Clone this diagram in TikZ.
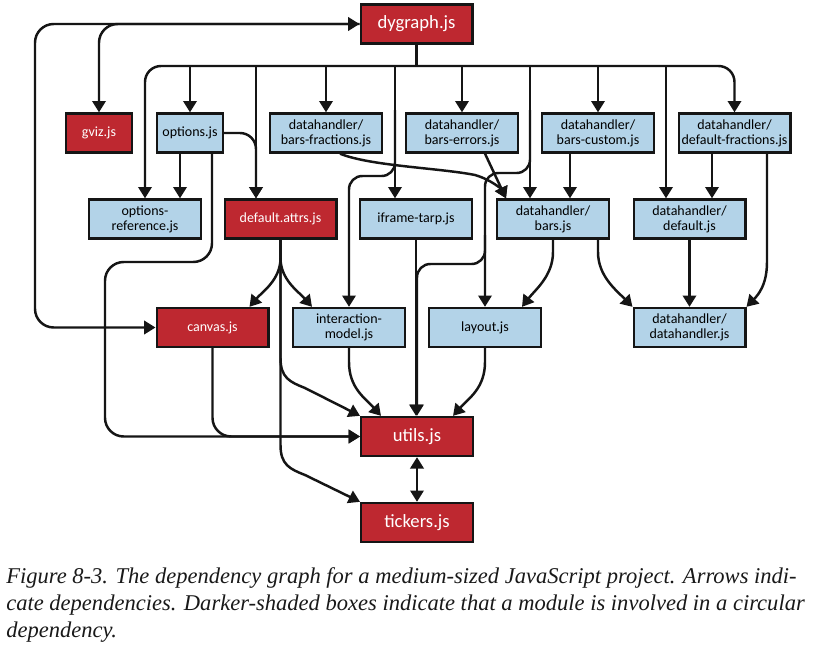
\documentclass[tikz,border=0pt]{standalone}
\usepackage{fontspec}
\setmainfont{Liberation Serif}
\newfontfamily\boxfont{Carlito}
\usetikzlibrary{arrows.meta,calc}
\definecolor{redfill}{HTML}{BE2830}
\definecolor{bluefill}{HTML}{B3D3E8}
\definecolor{edgecol}{HTML}{151515}
\begin{document}
\begin{tikzpicture}[x=0.75pt,y=-0.75pt,
 box/.style={draw=edgecol,line width=1.8pt,minimum width=83.7pt,minimum height=29.2pt,inner sep=0pt,align=center,font=\boxfont\fontsize{10.5}{11.25}\selectfont},
 bbox/.style={box,fill=bluefill,text=black},
 rbox/.style={box,fill=redfill,text=white},
 bigbox/.style={rbox,font=\boxfont\fontsize{14}{16}\selectfont},
 wire/.style={draw=edgecol,line width=1.85pt},
 arr/.style={wire,-{Triangle[length=8.5pt,width=10pt]}},
 darr/.style={wire,{Triangle[length=8.5pt,width=10pt]}-{Triangle[length=8.5pt,width=10pt]}},
 rc/.style={rounded corners=12pt},
 capt/.style={anchor=base west,inner sep=0pt,text=black!90,font=\itshape\fontsize{16.9}{18}\selectfont}
]
\useasboundingbox[fill=white] (0,0) rectangle (818,653);
% nodes
\node[bigbox] (dy) at (416.5,24) {dygraph.js};
\node[rbox,minimum width=49.5pt] (gviz) at (99,133) {gviz.js};
\node[bbox,minimum width=49.5pt] (opt) at (190,133) {options.js};
\node[bbox] (bf) at (326,133) {datahandler/\\bars-fractions.js};
\node[bbox] (be) at (462,133) {datahandler/\\bars-errors.js};
\node[bbox] (bc) at (598,133) {datahandler/\\bars-custom.js};
\node[bbox] (df) at (734.5,133) {datahandler/\\default-fractions.js};
\node[bbox] (oref) at (145,219) {options-\\reference.js};
\node[rbox] (dattr) at (280.5,219) {default.attrs.js};
\node[bbox] (ifr) at (416,219) {iframe-tarp.js};
\node[bbox] (bars) at (553,219) {datahandler/\\bars.js};
\node[bbox] (dflt) at (689.5,219) {datahandler/\\default.js};
\node[rbox] (canvas) at (212.5,327.5) {canvas.js};
\node[bbox] (im) at (349,327.5) {interaction-\\model.js};
\node[bbox] (lay) at (485,327.5) {layout.js};
\node[bbox] (dh) at (689.5,327.5) {datahandler/\\datahandler.js};
\node[bigbox] (utils) at (417,436.5) {utils.js};
\node[bigbox] (tick) at (417,522.5) {tickers.js};
% bus from dygraph
\coordinate (bus) at (416.5,66);
\draw[wire] (dy.south) -- (bus);
\draw[arr,rc] (bus) -| (oref.north);
\draw[arr] (bus) -| (opt.north);
\draw[arr] (bus) -| ($(dattr.north)+(-24.5,0)$);
\draw[arr] (bus) -| (bf.north);
\draw[arr] (bus) -| ($(ifr.north)+(-21,0)$);
\draw[arr] (bus) -| (be.north);
\draw[arr] (bus) -| ($(bars.north)+(-23,0)$);
\draw[arr] (bus) -| (bc.north);
\draw[arr] (bus) -| ($(dflt.north)+(-23.5,0)$);
\draw[arr,rc] (bus) -| (df.north);
% branches off the bus drops
\coordinate (j1) at (395,110);
\draw[arr,rounded corners=10pt] (j1) -- (395,176) -- (349,176) -- (im.north);
\coordinate (j2) at (530,110);
\draw[arr,rounded corners=10pt] (j2) -- (530,173) -- (485,173) -- (lay.north);
\coordinate (j3) at (485,235);
\draw[arr,rounded corners=10pt] (j3) -- (485,264) -- (417,264) -- (utils.north);
% left loop
\draw[darr,rounded corners=14pt] (dy.west) -- (35,24) -- (35,327.5) -- (canvas.west);
\draw[arr,rounded corners=14pt] (dy.west) -| (gviz.north);
% options
\draw[arr] ($(opt.south)+(-10,0)$) -- ($(oref.north)+(35,0)$);
\draw[arr,rounded corners=12pt] (opt.east) -| ($(dattr.north)+(-24.5,0)$);
\draw[arr,rounded corners=14pt] ($(opt.south)+(22,0)$) -- (212,262) -- (105,262) -- (105,436.5) -- (utils.west);
\draw[arr,rounded corners=14pt] (canvas.south) |- (utils.west);
% datahandlers
\draw[arr] ($(bf.south)+(14,0)$) .. controls (370,166) and (440,168) .. (475,175) .. controls (492,180) and (502,190) .. ($(bars.north)+(-47,0)$);
\draw[arr] ($(be.south)+(23,0)$) -- ($(bars.north)+(-47,0)$);
\draw[arr] ($(bc.south)+(-28,0)$) -- ($(bars.north)+(17,0)$);
\draw[arr] ($(df.south)+(-22.5,0)$) -- ($(dflt.north)+(22.5,0)$);
\draw[arr] (dflt.south) -- (dh.north);
\draw[arr] (bars.south) -- (553,252) .. controls (553,276) and (535,290) .. ($(lay.north)+(37,0)$);
\draw[arr] ($(bars.south)+(45,0)$) -- (598,252) .. controls (598,276) and (616,290) .. (dh.north west);
\draw[arr] ($(df.south)+(32.5,0)$) -- (767,262) .. controls (767,285) and (758,295) .. (dh.north east);
% default.attrs fan
\draw[arr] (dattr.south) -- (280.5,258) .. controls (280.5,280) and (262,292) .. ($(canvas.north)+(37,0)$);
\draw[arr] (dattr.south) -- (280.5,258) .. controls (280.5,280) and (299,292) .. ($(im.north)+(-37,0)$);
\draw[arr] (dattr.south) -- (280.5,358) .. controls (280.5,378) and (290,382) .. (305,388) -- (utils.north west);
\draw[arr] (dattr.south) -- (280.5,445) .. controls (280.5,465) and (290,469) .. (305,475) -- (tick.north west);
% into utils
\draw[arr] (ifr.south) -- (ifr.south |- utils.north);
\draw[arr] (im.south) -- (349,362) .. controls (349,388) and (365,398) .. ($(utils.north)+(-36,0)$);
\draw[arr] (lay.south) -- (485,362) .. controls (485,388) and (469,398) .. ($(utils.north)+(36,0)$);
\draw[darr] (utils.south) -- (tick.north);
% caption
\node[capt] (cap1) at (6,583) {Figure 8-3. The dependency graph for a medium-sized JavaScript project. Arrows indi-};
\node[capt] (cap2) at (6,610) {cate dependencies. Darker-shaded boxes indicate that a module is involved in a circular};
\node[capt] (cap3) at (6,637) {dependency.};
\end{tikzpicture}
\end{document}
